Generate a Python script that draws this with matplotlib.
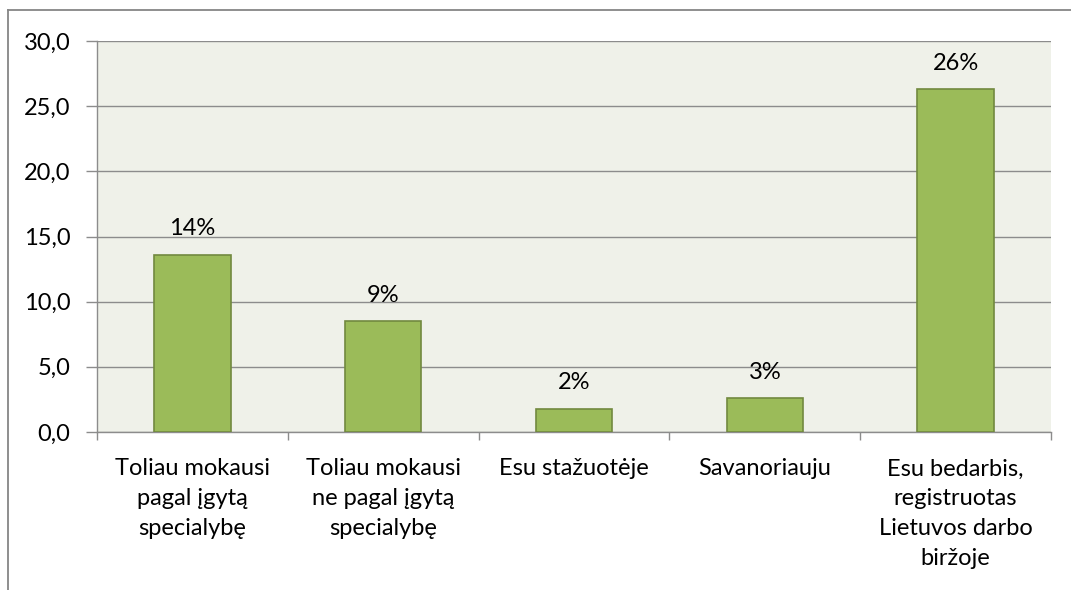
import matplotlib
matplotlib.use("Agg")
import matplotlib.pyplot as plt
from matplotlib.lines import Line2D
import numpy as np

# ── data ─────────────────────────────────────────────────────────────
categories = [
    "Toliau mokausi\npagal įgytą\nspecialybę",
    "Toliau mokausi\nne pagal įgytą\nspecialybę",
    "Esu stažuotėje",
    "Savanoriauju",
    "Esu bedarbis,\nregistruotas\nLietuvos darbo\nbiržoje",
]
values = [13.6, 8.5, 1.8, 2.6, 26.3]
value_labels = ["14%", "9%", "2%", "3%", "26%"]
yticks = [0, 5, 10, 15, 20, 25, 30]

# ── style ────────────────────────────────────────────────────────────
plt.rcParams["font.family"] = ["Lato", "DejaVu Sans"]
BG     = "#EFF1E9"
BAR    = "#9BBB59"
EDGE   = "#71893F"
GRID   = "#8C8C8C"
FS     = 17

fig = plt.figure(figsize=(10.71, 5.90), dpi=100)
ax = fig.add_axes([97 / 1071, 1 - 432 / 590, (1051 - 97) / 1071, (432 - 41) / 590])
ax.set_facecolor(BG)

x = np.arange(len(categories))
bars = ax.bar(x, values, width=0.40, color=BAR, edgecolor=EDGE, linewidth=1.2, zorder=3)

for b, lab in zip(bars, value_labels):
    ax.annotate(lab, (b.get_x() + b.get_width() / 2, b.get_height()),
                xytext=(0, 14), textcoords="offset points",
                ha="center", va="baseline", fontsize=FS, zorder=4)

ax.set_xlim(-0.5, len(categories) - 0.5)
ax.set_ylim(0, 30)
ax.set_yticks(yticks)
ax.set_yticklabels([f"{v:.1f}".replace(".", ",") for v in yticks], fontsize=FS)
ax.yaxis.grid(True, color=GRID, linewidth=1.0, zorder=0)
ax.set_axisbelow(True)

ax.set_xticks(x)
ax.set_xticklabels(categories, fontsize=FS, linespacing=1.52)
ax.set_xticks(np.arange(-0.5, len(categories)), minor=True)
ax.tick_params(axis="x", which="major", length=0, pad=19)
ax.tick_params(axis="x", which="minor", length=6, color=GRID, width=1.0)
ax.tick_params(axis="y", length=8, color=GRID, width=1.0, pad=11)

for side in ("top", "right"):
    ax.spines[side].set_visible(False)
for side in ("left", "bottom"):
    ax.spines[side].set_color(GRID)
    ax.spines[side].set_linewidth(1.0)

# outer chart frame (top and left edges visible)
fig.add_artist(Line2D([8 / 1071, 1.0], [1 - 10 / 590, 1 - 10 / 590],
                      transform=fig.transFigure, color="#868686", linewidth=1.3))
fig.add_artist(Line2D([8 / 1071, 8 / 1071], [0.0, 1 - 10 / 590],
                      transform=fig.transFigure, color="#868686", linewidth=1.3))

fig.savefig("out.png", dpi=100)
